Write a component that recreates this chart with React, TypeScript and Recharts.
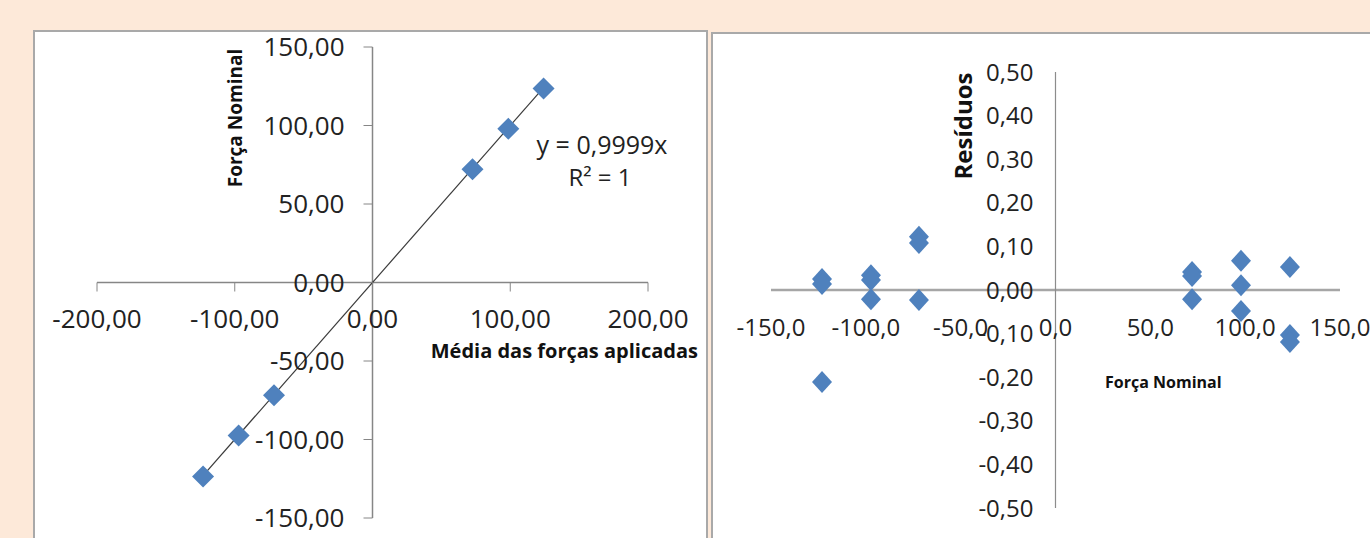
import React from 'react';
import { ScatterChart, Scatter, XAxis, YAxis, ReferenceLine } from 'recharts';

// gráfico da esquerda: média das forças aplicadas x força nominal
const mediaForcas = [-123.0, -97.2, -71.5, 72.6, 98.6, 124.2];
const forcaNominal = [-123.5, -97.5, -71.8, 72.2, 98.0, 123.6];
const leftXTicks = [-200, -100, 0, 100, 200];
const leftYTicks = [-150, -100, -50, 0, 50, 100, 150];
const slope = 0.9999;

// gráfico da direita: resíduos
const residuoX = [
  -123.1, -123.1, -123.1, -97.3, -97.3, -97.3, -72.0, -72.0, -72.0,
  72.0, 72.0, 72.0, 97.8, 97.8, 97.8, 123.6, 123.6, 123.6,
];
const residuoY = [
  0.025, 0.014, -0.211, 0.034, 0.023, -0.021, 0.122, 0.108, -0.023,
  0.041, 0.032, -0.021, 0.067, 0.011, -0.048, 0.053, -0.103, -0.119,
];
const rightXTicks = [-150, -100, -50, 0, 50, 100, 150];
const rightYTicks = [-0.5, -0.4, -0.3, -0.2, -0.1, 0, 0.1, 0.2, 0.3, 0.4, 0.5];

const FONT = '"Open Sans", sans-serif';
const BLUE = '#4F81BD';

// margens já descontando 1px de cada eixo
const LEFT = { w: 675, h: 518, m: { top: 27, right: 60, bottom: 19, left: 63 }, xd: [-200, 200], yd: [-150, 150] };
const RIGHT = { w: 657, h: 505, m: { top: 39, right: 30, bottom: 29, left: 57 }, xd: [-150, 150], yd: [-0.5, 0.5] };

// posição dos eixos que se cruzam no zero
function zeros(c: typeof LEFT) {
  const left = c.m.left + 1;
  const pw = c.w - left - c.m.right;
  const ph = c.h - c.m.top - c.m.bottom - 1;
  return {
    zx: left + (pw * (0 - c.xd[0])) / (c.xd[1] - c.xd[0]),
    zy: c.m.top + (ph * (c.yd[1] - 0)) / (c.yd[1] - c.yd[0]),
  };
}

const fmt = (v: number, d: number) => v.toFixed(d).replace('.', ',');

function Diamond(props: any) {
  const { cx, cy, rx = 11, ry = 11 } = props;
  if (cx == null || cy == null) return null;
  return (
    <polygon
      points={`${cx},${cy - ry} ${cx + rx},${cy} ${cx},${cy + ry} ${cx - rx},${cy}`}
      fill={BLUE}
    />
  );
}

function LeftChart() {
  const { zx, zy } = zeros(LEFT);
  const data = mediaForcas.map((x, i) => ({ x, y: forcaNominal[i] }));
  const xMin = Math.min(...mediaForcas);
  const xMax = Math.max(...mediaForcas);

  const xTick = (p: any) => (
    <g>
      <line x1={p.x} x2={p.x} y1={zy} y2={zy + 9} stroke="#868686" />
      <text x={p.x} y={zy + 45} textAnchor="middle" fontSize={26} fontFamily={FONT} fill="#222">
        {fmt(p.payload.value, 2)}
      </text>
    </g>
  );
  const yTick = (p: any) => (
    <g>
      <line x1={zx - 9} x2={zx} y1={p.y} y2={p.y} stroke="#868686" />
      <text x={zx - 28} y={p.y} dy="0.36em" textAnchor="end" fontSize={26} fontFamily={FONT} fill="#222">
        {fmt(p.payload.value, 2)}
      </text>
    </g>
  );

  return (
    <ScatterChart width={LEFT.w} height={LEFT.h} margin={LEFT.m}>
      <XAxis type="number" dataKey="x" domain={LEFT.xd} ticks={leftXTicks} height={1}
        axisLine={false} tickLine={false} interval={0} tick={xTick} />
      <YAxis type="number" dataKey="y" domain={LEFT.yd} ticks={leftYTicks} width={1}
        axisLine={false} tickLine={false} interval={0} tick={yTick} />
      <ReferenceLine y={0} stroke="#868686" strokeWidth={1.5} />
      <ReferenceLine x={0} stroke="#868686" strokeWidth={1.5} />
      <Scatter data={data} isAnimationActive={false} shape={(p: any) => <Diamond {...p} rx={11} ry={11} />} />
      <ReferenceLine
        segment={[{ x: xMin, y: slope * xMin }, { x: xMax, y: slope * xMax }]}
        stroke="#3a3a3a"
        strokeWidth={1.2}
      />
      <text x={569} y={134} textAnchor="middle" fontSize={25} fontFamily={FONT} fill="#222">y = 0,9999x</text>
      <text x={567} y={166} textAnchor="middle" fontSize={24} fontFamily={FONT} fill="#222">R² = 1</text>
      <text x={202} y={98} transform="rotate(-90 202 98)" dy="0.35em" textAnchor="middle"
        fontSize={19} fontWeight="bold" fontFamily={FONT} fill="#111">Força  Nominal</text>
      <text x={665} y={338} textAnchor="end" fontSize={20} fontWeight="bold" fontFamily={FONT} fill="#111">
        Média das forças aplicadas
      </text>
    </ScatterChart>
  );
}

function RightChart() {
  const { zx, zy } = zeros(RIGHT);
  const data = residuoX.map((x, i) => ({ x, y: residuoY[i] }));

  const xTick = (p: any) => (
    <text x={p.x} y={zy + 46} textAnchor="middle" fontSize={24} fontFamily={FONT} fill="#222">
      {fmt(p.payload.value, 1)}
    </text>
  );
  const yTick = (p: any) => (
    <text x={zx - 22} y={p.y} dy="0.36em" textAnchor="end" fontSize={24} fontFamily={FONT} fill="#222">
      {fmt(p.payload.value, 2)}
    </text>
  );

  return (
    <ScatterChart width={RIGHT.w} height={RIGHT.h} margin={RIGHT.m}>
      <XAxis type="number" dataKey="x" domain={RIGHT.xd} ticks={rightXTicks} height={1}
        axisLine={false} tickLine={false} interval={0} tick={xTick} />
      <YAxis type="number" dataKey="y" domain={RIGHT.yd} ticks={rightYTicks} width={1}
        axisLine={false} tickLine={false} interval={0} tick={yTick} />
      <ReferenceLine y={0} stroke="#a6a6a6" strokeWidth={2.5} />
      <ReferenceLine x={0} stroke="#8c8c8c" strokeWidth={1.2} />
      <Scatter data={data} isAnimationActive={false} shape={(p: any) => <Diamond {...p} rx={10} ry={11} />} />
      <text x={251} y={93} transform="rotate(-90 251 93)" dy="0.35em" textAnchor="middle"
        fontSize={24} fontWeight="bold" fontFamily={FONT} fill="#111">Resíduos</text>
      <text x={392} y={355} fontSize={16} fontWeight="bold" fontFamily={FONT} fill="#111">Força Nominal</text>
    </ScatterChart>
  );
}

export default function App() {
  return (
    <div style={{ position: 'absolute', left: 0, top: 0, width: 1370, height: 538, background: '#fde9d9', overflow: 'hidden' }}>
      <div style={{ position: 'absolute', left: 33, top: 30, width: 675, height: 530, background: '#fff', border: '2px solid #a9a9a9', boxSizing: 'border-box' }} />
      <div style={{ position: 'absolute', left: 711, top: 32, width: 680, height: 530, background: '#fff', border: '2px solid #a9a9a9', boxSizing: 'border-box' }} />
      <div style={{ position: 'absolute', left: 33, top: 20 }}>
        <LeftChart />
      </div>
      <div style={{ position: 'absolute', left: 713, top: 33 }}>
        <RightChart />
      </div>
    </div>
  );
}
